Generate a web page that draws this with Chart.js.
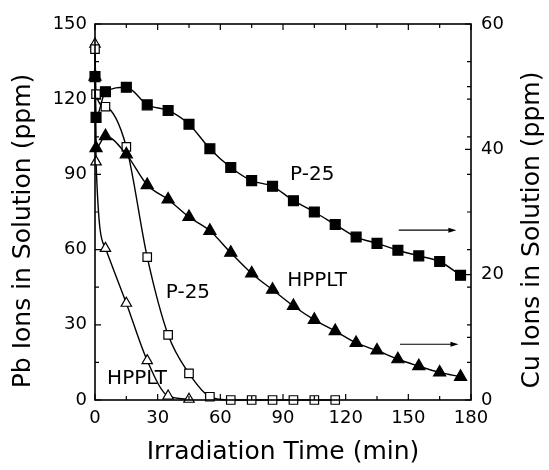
<!DOCTYPE html>
<html>
<head>
<meta charset="utf-8">
<script src="https://cdn.jsdelivr.net/npm/chart.js@4.4.0/dist/chart.umd.min.js"></script>
<style>
  html, body { margin: 0; padding: 0; background: #fff; }
  #wrap { width: 549px; height: 470px; }
</style>
</head>
<body>
<div id="wrap"><canvas id="plot" width="549" height="470"></canvas></div>
<script>
// Tiempo de irradiacion (min) y concentraciones
let tiempoPbP25 = [0, 0.5, 5, 15, 25, 35, 45, 55, 65, 75, 85, 95, 105, 115]
let pbP25 = [140, 122, 117, 101, 57, 26, 10.6, 1.3, 0, 0, 0, 0, 0, 0]

let tiempoPbHpplt = [0, 0.5, 5, 15, 25, 35, 45]
let pbHpplt = [142, 95, 60.5, 38.6, 15.7, 1.6, 0.3]

let tiempoCu = [0, 0.5, 5, 15, 25, 35, 45, 55, 65, 75, 85, 95, 105, 115, 125, 135, 145, 155, 165, 175]
let cuP25 = [51.6, 45.1, 49.2, 49.9, 47.1, 46.2, 44.0, 40.1, 37.1, 35.0, 34.1, 31.8, 30.0, 28.0, 26.0, 25.0, 23.9, 23.0, 22.1, 19.9]
let cuHpplt = [51.6, 40.2, 42.1, 39.2, 34.3, 32.0, 29.2, 27.0, 23.5, 20.2, 17.6, 15.0, 12.8, 11.0, 9.1, 7.9, 6.5, 5.4, 4.4, 3.7]

// Etiquetas de los ejes
let ticksX = [0, 30, 60, 90, 120, 150, 180]
let ticksPb = [0, 30, 60, 90, 120, 150]
let ticksCu = [0, 20, 40, 60]

let tituloX = 'Irradiation Time (min)'
let tituloPb = 'Pb Ions in Solution (ppm)'
let tituloCu = 'Cu Ions in Solution (ppm)'

// Textos dentro del grafico (x en min, y en el eje indicado)
let etiquetas = [
  {texto: 'P-25', x: 104, y: 35.9, eje: 'y2'},
  {texto: 'HPPLT', x: 106.3, y: 19.0, eje: 'y2'},
  {texto: 'P-25', x: 44.5, y: 42.7, eje: 'y'},
  {texto: 'HPPLT', x: 20.1, y: 8.4, eje: 'y'}
]
// Flechas que apuntan al eje derecho
let flechas = [
  {x1: 145.4, x2: 173, y: 27.1},
  {x1: 146, x2: 174, y: 8.9}
]

let fuente = 'DejaVu Sans'

let aPuntos = (tiempos, valores) => tiempos.map((t, i) => ({x: t, y: valores[i]}))

let serie = (datos, eje, estilo, relleno, radio) => ({
  data: datos,
  yAxisID: eje,
  borderColor: '#000',
  borderWidth: 1.4,
  pointStyle: estilo,
  pointRadius: radio,
  pointBackgroundColor: relleno,
  pointBorderColor: '#000',
  pointBorderWidth: 1.2,
  cubicInterpolationMode: 'monotone',
  fill: false,
  clip: false
})

// Marcas hacia adentro, marco, titulos, textos y flechas
let decoracion = {
  id: 'decoracion',
  afterDatasetsDraw(chart) {
    let ctx = chart.ctx
    let a = chart.chartArea
    let sx = chart.scales.x, sy = chart.scales.y, sy2 = chart.scales.y2
    ctx.save()
    ctx.strokeStyle = '#000'
    ctx.lineWidth = 1.6
    ctx.strokeRect(a.left, a.top, a.right - a.left, a.bottom - a.top)

    ctx.lineWidth = 1.2
    ctx.beginPath()
    for (let v = 0; v <= 180; v += 15) {
      let px = sx.getPixelForValue(v)
      let l = v % 30 === 0 ? 6 : 4
      ctx.moveTo(px, a.bottom); ctx.lineTo(px, a.bottom - l)
      ctx.moveTo(px, a.top); ctx.lineTo(px, a.top + l)
    }
    for (let v = 0; v <= 150; v += 15) {
      let py = sy.getPixelForValue(v)
      let l = v % 30 === 0 ? 6 : 4
      ctx.moveTo(a.left, py); ctx.lineTo(a.left + l, py)
      ctx.moveTo(a.right, py); ctx.lineTo(a.right - 4, py)
    }
    for (let v = 0; v <= 60; v += 10) {
      let py = sy2.getPixelForValue(v)
      let l = v % 20 === 0 ? 6 : 4
      ctx.moveTo(a.right, py); ctx.lineTo(a.right - l, py)
    }
    ctx.stroke()

    // flechas
    ctx.lineWidth = 1.2
    flechas.forEach(f => {
      let x1 = sx.getPixelForValue(f.x1), x2 = sx.getPixelForValue(f.x2)
      let py = sy2.getPixelForValue(f.y)
      ctx.beginPath()
      ctx.moveTo(x1, py); ctx.lineTo(x2 - 4, py)
      ctx.stroke()
      ctx.beginPath()
      ctx.moveTo(x2, py); ctx.lineTo(x2 - 8, py - 2.5); ctx.lineTo(x2 - 8, py + 2.5)
      ctx.closePath()
      ctx.fillStyle = '#000'
      ctx.fill()
    })

    // textos
    ctx.fillStyle = '#000'
    ctx.textAlign = 'center'
    ctx.textBaseline = 'middle'
    ctx.font = '20px "' + fuente + '"'
    etiquetas.forEach(e => {
      let escala = chart.scales[e.eje]
      ctx.fillText(e.texto, sx.getPixelForValue(e.x), escala.getPixelForValue(e.y))
    })

    // titulos de los ejes
    ctx.font = '25px "' + fuente + '"'
    let cx = (a.left + a.right) / 2
    let cy = (a.top + a.bottom) / 2
    ctx.fillText(tituloX, cx, a.bottom + 52)
    ctx.save()
    ctx.translate(a.left - 72, cy + 19)
    ctx.rotate(-Math.PI / 2)
    ctx.fillText(tituloPb, 0, 0)
    ctx.restore()
    ctx.save()
    ctx.translate(a.right + 61, cy + 18)
    ctx.rotate(-Math.PI / 2)
    ctx.fillText(tituloCu, 0, 0)
    ctx.restore()
    ctx.restore()
  }
}

let config = {
  type: 'line',
  data: {
    datasets: [
      serie(aPuntos(tiempoCu, cuP25), 'y2', 'rect', '#000', 7),
      serie(aPuntos(tiempoCu, cuHpplt), 'y2', 'triangle', '#000', 7),
      serie(aPuntos(tiempoPbP25, pbP25), 'y', 'rect', '#fff', 6),
      serie(aPuntos(tiempoPbHpplt, pbHpplt), 'y', 'triangle', '#fff', 6)
    ]
  },
  options: {
    responsive: false,
    animation: false,
    devicePixelRatio: 1,
    layout: {padding: {top: 24, left: 0, right: 0, bottom: 0}},
    plugins: {legend: {display: false}, tooltip: {enabled: false}},
    scales: {
      x: {
        type: 'linear', position: 'bottom', min: 0, max: 180,
        afterBuildTicks: s => { s.ticks = ticksX.map(v => ({value: v})) },
        afterFit: s => { s.height = 70 },
        grid: {display: false, drawTicks: false},
        border: {display: false},
        ticks: {color: '#000', padding: 8, maxRotation: 0, font: {family: fuente, size: 18}}
      },
      y: {
        type: 'linear', position: 'left', min: 0, max: 150,
        afterBuildTicks: s => { s.ticks = ticksPb.map(v => ({value: v})) },
        afterFit: s => { s.width = 95 },
        grid: {display: false, drawTicks: false},
        border: {display: false},
        ticks: {color: '#000', padding: 8, font: {family: fuente, size: 18}}
      },
      y2: {
        type: 'linear', position: 'right', min: 0, max: 60,
        afterBuildTicks: s => { s.ticks = ticksCu.map(v => ({value: v})) },
        afterFit: s => { s.width = 78 },
        grid: {display: false, drawTicks: false},
        border: {display: false},
        ticks: {color: '#000', padding: 10, font: {family: fuente, size: 18}}
      }
    }
  },
  plugins: [decoracion]
}

let plotRef = document.getElementById('plot')
let chart1 = new Chart(plotRef, config)
</script>
</body>
</html>
